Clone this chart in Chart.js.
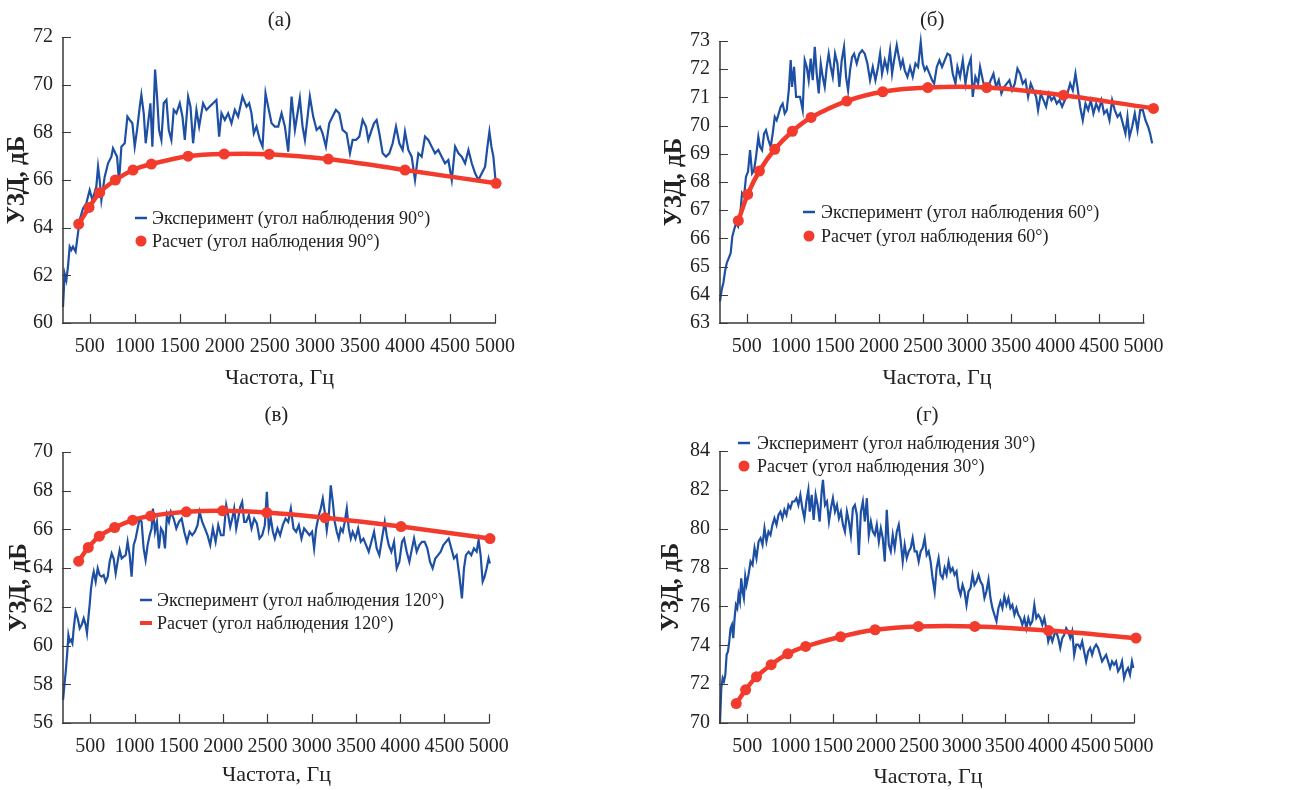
<!DOCTYPE html>
<html>
<head>
<meta charset="utf-8">
<script src="https://cdn.jsdelivr.net/npm/chart.js@4.4.1/dist/chart.umd.min.js"></script>
<style>
  body { margin: 0; background: #fff; width: 1308px; height: 790px; overflow: hidden; position: relative; }
  canvas { position: absolute; }
</style>
</head>
<body>
<canvas id="chartA" width="654" height="395" style="left:0;top:0"></canvas>
<canvas id="chartB" width="654" height="395" style="left:654px;top:0"></canvas>
<canvas id="chartC" width="654" height="395" style="left:0;top:395px"></canvas>
<canvas id="chartD" width="654" height="395" style="left:654px;top:395px"></canvas>
<script>
// shared tick labels
const xTicks = [500, 1000, 1500, 2000, 2500, 3000, 3500, 4000, 4500, 5000];
const yTicksA = [60, 62, 64, 66, 68, 70, 72];
const yTicksB = [63, 64, 65, 66, 67, 68, 69, 70, 71, 72, 73];
const yTicksC = [56, 58, 60, 62, 64, 66, 68, 70];
const yTicksD = [70, 72, 74, 76, 78, 80, 82, 84];

// (а) 90°
const expFreqA = [204,222,241,259,278,296,315,344,370,389,426,463,500,530,574,593,611,630,667,704,
  741,759,785,804,826,852,889,919,944,974,1000,1026,1056,1074,1100,1122,1148,1174,1196,1226,
  1248,1270,1296,1322,1352,1378,1407,1433,1463,1500,1530,1556,1593,1619,1648,1685,1715,1759,1796,1833,
  1870,1907,1937,1963,2000,2037,2074,2111,2148,2196,2241,2270,2296,2322,2352,2389,2419,2452,2481,2519,
  2556,2593,2630,2667,2704,2741,2778,2807,2833,2863,2889,2919,2944,2981,3019,3056,3085,3122,3159,3196,
  3233,3270,3307,3352,3389,3419,3456,3493,3530,3567,3593,3630,3656,3685,3715,3752,3789,3826,3863,3900,
  3937,3974,4000,4037,4074,4111,4148,4185,4222,4259,4296,4333,4370,4407,4444,4481,4519,4556,4593,4630,
  4667,4704,4741,4778,4815,4852,4889,4915,4937,4959,4981,5004];
const expLevelA = [60.67,62.07,61.79,62.35,63.20,63.06,63.20,62.99,63.76,64.32,
  64.81,65.02,65.58,65.16,65.72,66.56,66.00,65.16,66.14,66.70,
  66.98,67.33,67.12,66.98,65.93,67.40,67.54,68.66,68.52,68.38,
  67.40,68.10,69.08,69.57,68.80,67.54,68.38,69.22,67.40,70.63,
  69.50,68.10,67.68,69.22,69.36,68.10,67.68,68.94,68.80,69.22,
  68.66,67.68,69.50,69.08,67.54,68.94,68.24,69.22,68.94,69.08,
  69.22,69.36,67.82,68.80,68.52,68.80,68.38,68.94,68.66,69.50,
  69.08,69.22,68.80,67.96,68.24,67.68,67.40,69.64,69.08,68.38,
  68.24,68.24,68.80,68.24,67.19,69.50,68.10,68.80,69.43,68.24,
  67.68,68.66,69.50,68.66,68.10,68.24,67.96,67.40,68.38,68.66,
  68.94,68.80,68.10,67.96,67.12,67.68,67.68,67.82,68.52,68.24,
  67.68,68.10,68.38,68.52,67.96,67.12,66.98,67.12,67.54,68.24,
  67.54,67.26,68.03,67.26,66.98,66.00,67.12,66.98,67.82,67.68,
  67.40,67.12,67.26,66.98,66.70,66.84,66.00,67.40,67.12,66.98,
  66.70,67.26,66.70,66.28,66.00,66.28,66.56,67.40,68.03,67.40,
  66.98,66.00];
const calcFreqA = [378, 493, 611, 785, 981, 1185, 1593, 1993, 2493, 3148, 4000, 5011];
const calcLevelA = [64.15, 64.85, 65.47, 66.0, 66.42, 66.67, 67.0, 67.09, 67.08, 66.88, 66.42, 65.86];

// (б) 60°
const expFreqB = [197,216,235,254,273,296,318,337,356,379,402,424,447,470,492,515,538,561,583,606,
  632,651,674,697,719,746,772,795,818,840,863,886,908,931,954,977,999,1014,1037,1060,
  1082,1105,1135,1158,1181,1203,1226,1249,1272,1294,1317,1340,1362,1385,1408,1430,1453,1476,1502,1529,
  1551,1578,1604,1627,1650,1672,1695,1718,1748,1778,1809,1839,1869,1899,1930,1960,1990,2013,2035,2066,
  2096,2126,2149,2172,2202,2225,2247,2270,2293,2323,2353,2383,2414,2444,2474,2497,2520,2542,2573,2603,
  2626,2656,2686,2716,2747,2777,2807,2837,2868,2890,2920,2951,2981,3011,3042,3064,3094,3125,3147,3178,
  3208,3238,3268,3299,3329,3359,3389,3420,3450,3480,3510,3541,3571,3601,3631,3662,3692,3722,3753,3783,
  3805,3836,3866,3896,3926,3957,3987,4017,4047,4078,4108,4138,4169,4199,4229,4252,4282,4312,4343,4373,
  4403,4433,4464,4494,4524,4554,4585,4615,4645,4675,4706,4736,4766,4796,4819,4842,4872,4902,4933,4963,
  4993,5023,5053,5076,5099];
const expLevelB = [63.77,64.18,64.42,64.83,65.12,65.30,65.48,66.07,66.30,66.54,
  66.42,66.77,67.60,67.48,68.19,68.37,69.13,68.31,68.42,68.90,
  69.60,69.25,69.13,69.72,69.84,69.49,69.25,69.72,70.31,70.19,
  70.43,70.67,70.78,70.43,70.55,71.25,72.32,71.37,72.08,71.02,
  71.02,71.02,70.55,72.32,72.08,71.61,72.38,71.61,72.79,71.84,
  71.14,72.20,71.73,71.37,72.08,72.55,72.08,71.73,72.55,72.20,
  71.37,72.32,72.79,71.73,71.25,71.96,72.43,72.55,72.20,72.55,
  72.67,72.55,72.20,71.61,72.08,71.61,72.08,72.55,71.84,72.32,
  71.96,72.67,71.84,72.32,72.85,72.43,72.08,72.32,71.96,71.73,
  72.08,71.73,72.20,72.08,72.96,72.20,71.96,72.08,71.84,71.61,
  71.49,72.08,72.32,72.08,72.32,72.55,72.49,71.84,71.49,72.08,
  71.73,72.32,71.49,72.08,72.38,71.02,71.73,71.49,72.08,71.61,
  71.25,71.37,71.61,71.84,71.37,71.61,71.14,71.37,71.49,71.61,
  71.25,71.49,72.02,71.84,71.49,71.61,71.02,71.49,71.25,71.02,
  70.55,71.14,70.90,70.67,71.14,70.90,71.02,70.78,70.90,70.67,
  70.90,71.14,71.49,71.25,71.84,71.37,70.67,70.19,70.78,70.55,
  70.90,70.43,70.78,70.55,70.90,70.43,70.55,70.19,70.90,70.55,
  70.31,70.43,70.08,69.72,70.31,69.60,69.96,70.43,69.84,70.55,
  70.55,70.19,69.96,69.72,69.37];
const calcFreqB = [405, 511, 644, 818, 1018, 1230, 1635, 2043, 2554, 3223, 4093, 5114];
const calcLevelB = [66.63, 67.56, 68.39, 69.16, 69.80, 70.29, 70.87, 71.20, 71.35, 71.35, 71.08, 70.61];

// (в) 120°
const expFreqC = [192,207,222,237,252,267,282,297,312,334,357,380,402,425,447,462,477,492,508,523,
  538,560,583,605,628,650,673,696,718,741,763,786,808,831,854,876,899,921,944,966,
  989,1012,1034,1057,1079,1102,1124,1147,1170,1192,1207,1230,1252,1275,1298,1320,1343,1365,1388,1410,
  1441,1471,1501,1531,1561,1591,1621,1651,1681,1711,1734,1764,1794,1824,1854,1884,1915,1945,1975,2005,
  2035,2057,2080,2103,2125,2148,2170,2193,2215,2238,2261,2291,2321,2351,2381,2411,2441,2471,2494,2516,
  2539,2562,2584,2614,2644,2674,2705,2735,2765,2795,2825,2855,2885,2915,2945,2975,3005,3028,3051,3081,
  3103,3126,3148,3171,3194,3216,3239,3261,3284,3306,3329,3352,3374,3397,3419,3442,3464,3495,3525,3555,
  3585,3615,3645,3675,3705,3735,3765,3795,3826,3848,3871,3901,3931,3961,3991,4021,4044,4074,4104,4134,
  4157,4187,4217,4247,4277,4307,4337,4367,4397,4428,4458,4488,4518,4548,4578,4608,4638,4668,4698,4721,
  4743,4774,4804,4834,4864,4886,4909,4932,4954,4977,4999,5014];
const expLevelC = [57.20,57.97,58.66,59.52,60.55,60.21,60.29,60.12,60.89,61.75,
  61.41,60.89,61.07,61.41,61.07,60.64,61.41,62.10,62.96,63.47,
  63.81,63.30,63.99,63.64,63.56,63.64,63.30,63.56,64.33,64.76,
  64.50,63.73,64.33,64.93,64.50,64.59,64.67,65.36,64.67,63.56,
  65.19,65.53,66.05,66.56,66.39,65.02,64.42,65.19,65.70,66.05,
  67.08,65.88,66.39,65.02,66.05,65.88,65.02,66.74,66.39,66.91,
  66.56,66.05,66.39,66.56,65.88,65.36,65.88,65.70,65.88,66.22,
  66.91,66.39,66.05,65.70,65.19,66.05,65.36,66.22,65.70,65.70,
  67.25,66.74,66.13,66.56,67.08,66.05,66.56,67.16,67.42,66.39,
  66.39,66.74,66.05,66.56,66.31,65.53,65.70,66.22,67.94,66.05,
  66.56,65.88,65.53,66.05,65.70,66.22,66.56,66.39,67.08,66.05,
  65.88,66.22,65.53,66.05,65.88,65.70,65.88,65.02,66.05,66.74,
  67.08,67.59,66.91,65.96,66.74,68.28,67.42,66.39,65.88,65.53,
  66.05,65.88,66.39,67.08,66.05,65.53,65.88,65.53,66.05,65.36,
  65.53,65.19,64.85,65.36,65.88,65.02,64.67,65.53,66.39,65.70,
  65.19,64.85,65.36,63.99,64.33,65.36,65.53,64.85,64.33,65.02,
  65.53,64.85,65.19,65.36,65.36,65.02,64.33,63.99,64.50,64.67,
  64.85,65.19,65.36,65.53,65.02,64.50,64.67,63.64,62.44,63.99,
  64.67,64.85,64.67,65.02,64.85,65.45,64.67,63.30,63.56,63.99,
  64.50,64.24];
const calcFreqC = [368, 477, 602, 775, 978, 1181, 1584, 1994, 2494, 3152, 4010, 5015];
const calcLevelC = [64.36, 65.07, 65.65, 66.10, 66.48, 66.70, 66.91, 66.96, 66.87, 66.60, 66.15, 65.53];

// (г) 30°
const expFreqD = [183,198,214,229,245,260,276,291,306,322,337,353,368,384,399,415,430,446,461,477,
  492,515,539,562,585,608,632,655,678,701,724,748,771,794,817,841,864,887,910,933,
  957,980,1003,1026,1050,1073,1096,1119,1142,1166,1189,1212,1228,1251,1274,1297,1320,1344,1367,1382,
  1406,1429,1452,1475,1498,1522,1545,1568,1591,1615,1638,1661,1684,1707,1731,1754,1777,1800,1824,1847,
  1870,1893,1916,1940,1963,1986,2009,2033,2056,2079,2102,2125,2149,2172,2195,2218,2242,2265,2288,2311,
  2334,2358,2381,2404,2427,2450,2474,2497,2520,2543,2567,2590,2613,2636,2659,2683,2706,2729,2752,2776,
  2799,2822,2845,2868,2892,2915,2938,2961,2985,3008,3031,3054,3077,3101,3124,3147,3170,3194,3217,3240,
  3263,3286,3310,3333,3356,3379,3403,3426,3449,3472,3495,3519,3542,3565,3588,3612,3635,3658,3681,3704,
  3728,3751,3774,3797,3820,3844,3867,3890,3913,3937,3960,3983,4006,4029,4053,4076,4099,4122,4146,4169,
  4192,4215,4238,4262,4285,4308,4331,4355,4378,4401,4424,4447,4471,4494,4517,4540,4564,4587,4610,4633,
  4656,4680,4703,4726,4749,4772,4796,4819,4842,4865,4889,4912,4935,4958,4981,4997];
const expLevelD = [70.00,71.80,72.31,72.14,72.49,73.51,73.68,74.20,74.88,75.06,
  74.37,75.40,76.08,75.91,76.60,76.25,77.45,76.77,76.43,77.54,
  77.11,77.63,78.31,78.14,79.00,78.48,79.34,79.51,79.17,80.02,
  79.34,79.85,79.68,80.20,80.54,80.20,80.71,80.88,80.54,80.97,
  80.71,81.22,81.05,81.40,81.40,81.57,81.22,81.74,81.05,80.54,
  81.40,82.00,80.88,81.74,80.45,81.74,81.22,80.37,81.91,82.51,
  81.22,81.40,80.37,81.05,81.57,80.88,81.22,80.54,80.88,80.20,
  79.85,80.88,80.37,79.68,81.05,81.22,80.71,78.65,80.88,81.40,
  80.37,81.57,79.68,80.37,79.85,79.68,80.20,79.34,80.02,79.51,
  78.31,80.97,79.17,78.83,79.68,79.00,79.85,80.20,79.34,78.31,
  79.17,78.48,78.83,79.00,79.51,78.83,78.83,78.31,78.83,79.00,
  79.51,78.65,78.83,78.31,77.45,76.77,77.97,78.48,77.63,77.45,
  77.97,77.63,78.31,77.80,77.97,77.63,77.80,76.94,76.60,77.11,
  76.77,76.08,76.77,76.94,77.63,77.11,77.28,77.63,77.28,77.11,
  76.43,76.77,77.37,76.43,75.91,75.57,75.23,75.91,76.25,75.91,
  76.51,76.08,76.43,75.91,76.08,75.57,75.91,75.57,75.40,75.06,
  75.40,74.88,75.40,75.06,75.23,76.08,75.40,75.57,75.40,75.06,
  75.40,74.88,74.20,74.54,74.20,74.54,74.71,74.37,73.86,74.37,
  74.54,74.88,74.71,74.37,74.71,73.51,74.03,74.03,73.86,74.20,
  73.68,73.17,73.68,73.86,73.51,73.86,74.03,73.86,73.51,73.17,
  73.34,73.51,73.17,72.83,73.17,73.00,73.17,72.66,72.83,73.17,
  72.31,72.66,72.83,72.49,73.17,72.83];
const calcFreqD = [372, 481, 608, 779, 972, 1181, 1587, 1990, 2493, 3151, 4010, 5028];
const calcLevelD = [71.0, 71.71, 72.38, 73.0, 73.56, 73.94, 74.44, 74.80, 74.97, 74.97, 74.76, 74.37];

const BLUE = '#1d4fa3';
const RED = '#f23b2c';
const TEXT = '#222';
const AXIS = '#3a3a3a';
const FONT = '"Liberation Serif", "DejaVu Serif", serif';

Chart.defaults.font.family = FONT;
Chart.defaults.color = TEXT;

function toPoints(xs, ys) {
    return xs.map((x, i) => ({ x: x, y: ys[i] }));
}

// axes lines, inward ticks, panel letter and the in-plot legend
const panelDecor = {
    id: 'panelDecor',
    afterDraw(chart, args, opts) {
        const { ctx, chartArea: area, scales } = chart;
        const xs = scales.x, ys = scales.y;
        const xEnd = Math.min(area.right, xs.getPixelForValue(5000) + 1);
        ctx.save();
        ctx.strokeStyle = AXIS;
        ctx.lineWidth = 1.5;
        ctx.beginPath();
        ctx.moveTo(area.left, area.top);
        ctx.lineTo(area.left, area.bottom);
        ctx.lineTo(xEnd, area.bottom);
        ctx.stroke();

        ctx.lineWidth = 1.2;
        ctx.beginPath();
        xs.ticks.forEach(t => {
            const px = Math.round(xs.getPixelForValue(t.value)) + 0.5;
            ctx.moveTo(px, area.bottom);
            ctx.lineTo(px, area.bottom - 9);
        });
        ys.ticks.forEach(t => {
            const py = Math.round(ys.getPixelForValue(t.value)) + 0.5;
            ctx.moveTo(area.left - 1, py);
            ctx.lineTo(area.left + 8, py);
        });
        ctx.stroke();

        ctx.fillStyle = TEXT;
        ctx.textAlign = 'center';
        ctx.textBaseline = 'middle';
        ctx.font = '21px ' + FONT;
        ctx.fillText(opts.title, (area.left + xEnd) / 2, opts.titleY);

        ctx.font = '18px ' + FONT;
        ctx.textAlign = 'left';
        opts.legend.forEach(item => {
            if (item.marker === 'dot') {
                ctx.fillStyle = item.color;
                ctx.beginPath();
                ctx.arc(item.mx + 6, item.y, 5.5, 0, Math.PI * 2);
                ctx.fill();
            } else {
                ctx.strokeStyle = item.color;
                ctx.lineWidth = item.marker === 'thick' ? 4 : 2.5;
                ctx.beginPath();
                ctx.moveTo(item.mx, item.y);
                ctx.lineTo(item.mx + 12, item.y);
                ctx.stroke();
            }
            ctx.fillStyle = TEXT;
            ctx.fillText(item.text, item.tx, item.y + 1);
        });
        ctx.restore();
    }
};

function makeChart(id, p) {
    return new Chart(document.getElementById(id), {
        type: 'line',
        data: {
            datasets: [
                {
                    label: p.calcLabel,
                    data: toPoints(p.calcFreq, p.calcLevel),
                    borderColor: RED,
                    backgroundColor: RED,
                    borderWidth: 4.5,
                    pointRadius: 5.5,
                    pointBorderWidth: 0,
                    pointBackgroundColor: RED,
                    tension: 0.3,
                    clip: false
                },
                {
                    label: p.expLabel,
                    data: toPoints(p.expFreq, p.expLevel),
                    borderColor: BLUE,
                    borderWidth: 2.2,
                    pointRadius: 0,
                    tension: 0,
                    clip: false
                }
            ]
        },
        options: {
            responsive: false,
            animation: false,
            devicePixelRatio: 1,
            layout: { padding: { left: 0, top: p.top, right: p.right, bottom: 0 } },
            plugins: {
                legend: { display: false },
                tooltip: { enabled: false },
                title: { display: false },
                panelDecor: { title: p.title, titleY: 20, legend: p.legend }
            },
            scales: {
                x: {
                    type: 'linear',
                    min: p.xMin,
                    max: p.xMax,
                    grid: { display: false, drawTicks: false },
                    border: { display: false },
                    afterBuildTicks: s => { s.ticks = xTicks.map(v => ({ value: v })); },
                    afterFit: s => { s.height = p.xHeight; },
                    ticks: {
                        autoSkip: false, maxRotation: 0, minRotation: 0, padding: 12,
                        color: TEXT, font: { size: 20 },
                        callback: v => String(v)
                    },
                    title: {
                        display: true, text: 'Частота, Гц', color: TEXT,
                        font: { size: 22 }, padding: { top: 0, bottom: p.xTitlePad }
                    }
                },
                y: {
                    min: p.yTicks[0],
                    max: p.yTicks[p.yTicks.length - 1],
                    grid: { display: false, drawTicks: false },
                    border: { display: false },
                    afterBuildTicks: s => { s.ticks = p.yTicks.map(v => ({ value: v })); },
                    afterFit: s => { s.width = p.yWidth; },
                    ticks: {
                        autoSkip: false, padding: 10, color: TEXT, font: { size: 20 },
                        callback: v => String(v)
                    },
                    title: {
                        display: true, text: 'УЗД, дБ', color: TEXT,
                        font: { size: 25, weight: 'bold' }, padding: { top: p.yTitlePad, bottom: 0 }
                    }
                }
            }
        },
        plugins: [panelDecor]
    });
}

makeChart('chartA', {
    title: '(а)', top: 37, right: 158, yWidth: 63, xHeight: 72, xMin: 204, xMax: 5010,
    yTicks: yTicksA, xTitlePad: 4, yTitlePad: 3,
    expFreq: expFreqA, expLevel: expLevelA, calcFreq: calcFreqA, calcLevel: calcLevelA,
    expLabel: 'Эксперимент (угол наблюдения 90°)', calcLabel: 'Расчет (угол наблюдения 90°)',
    legend: [
        { marker: 'line', color: BLUE, mx: 135, tx: 152, y: 218, text: 'Эксперимент (угол наблюдения 90°)' },
        { marker: 'dot', color: RED, mx: 135, tx: 152, y: 241, text: 'Расчет (угол наблюдения 90°)' }
    ]
});

makeChart('chartB', {
    title: '(б)', top: 41, right: 154, yWidth: 66, xHeight: 72, xMin: 197, xMax: 5120,
    yTicks: yTicksB, xTitlePad: 4, yTitlePad: 6,
    expFreq: expFreqB, expLevel: expLevelB, calcFreq: calcFreqB, calcLevel: calcLevelB,
    expLabel: 'Эксперимент (угол наблюдения 60°)', calcLabel: 'Расчет (угол наблюдения 60°)',
    legend: [
        { marker: 'line', color: BLUE, mx: 149, tx: 167, y: 212, text: 'Эксперимент (угол наблюдения 60°)' },
        { marker: 'dot', color: RED, mx: 149, tx: 167, y: 236, text: 'Расчет (угол наблюдения 60°)' }
    ]
});

makeChart('chartC', {
    title: '(в)', top: 57, right: 164, yWidth: 63, xHeight: 67, xMin: 191, xMax: 5015,
    yTicks: yTicksC, xTitlePad: 2, yTitlePad: 5,
    expFreq: expFreqC, expLevel: expLevelC, calcFreq: calcFreqC, calcLevel: calcLevelC,
    expLabel: 'Эксперимент (угол наблюдения 120°)', calcLabel: 'Расчет (угол наблюдения 120°)',
    legend: [
        { marker: 'line', color: BLUE, mx: 140, tx: 157, y: 205, text: 'Эксперимент (угол наблюдения 120°)' },
        { marker: 'thick', color: RED, mx: 140, tx: 157, y: 228, text: 'Расчет (угол наблюдения 120°)' }
    ]
});

makeChart('chartD', {
    title: '(г)', top: 56, right: 172, yWidth: 66, xHeight: 67, xMin: 183, xMax: 5028,
    yTicks: yTicksD, xTitlePad: 0, yTitlePad: 3,
    expFreq: expFreqD, expLevel: expLevelD, calcFreq: calcFreqD, calcLevel: calcLevelD,
    expLabel: 'Эксперимент (угол наблюдения 30°)', calcLabel: 'Расчет (угол наблюдения 30°)',
    legend: [
        { marker: 'line', color: BLUE, mx: 84, tx: 103, y: 48, text: 'Эксперимент (угол наблюдения 30°)' },
        { marker: 'dot', color: RED, mx: 84, tx: 103, y: 71, text: 'Расчет (угол наблюдения 30°)' }
    ]
});
</script>
</body>
</html>
